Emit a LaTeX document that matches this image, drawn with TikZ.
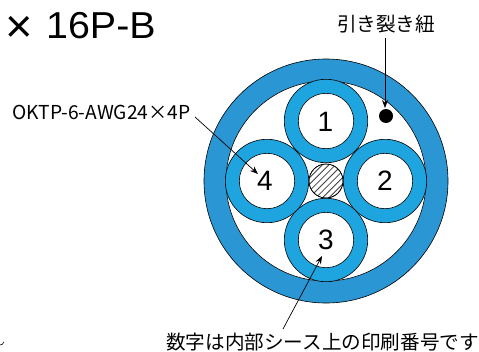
\documentclass[tikz,border=0pt]{standalone}
\usepackage{fontspec}
\setmainfont{Liberation Sans}
\newfontfamily\cjkf{Noto Sans CJK JP}
\usetikzlibrary{arrows.meta}
\definecolor{sheath}{HTML}{2A96D3}
\definecolor{ringc}{HTML}{1EA5DF}
\tikzset{
  x=1pt,y=-1pt,
  disc/.style={circle,draw=black,line width=0.6pt,inner sep=0pt,outer sep=0pt,minimum size=#1},
  pairnum/.style={font=\fontsize{28}{28}\selectfont,inner sep=0pt},
  jplabel/.style={font=\cjkf\fontsize{19.6}{20}\selectfont,inner sep=0pt},
  callout/.style={draw=black,line width=0.7pt,-{Stealth[length=8pt,width=6pt]}}
}
\begin{document}
\begin{tikzpicture}
\useasboundingbox (0,0) rectangle (479,351);
\node[disc=244pt,fill=sheath] (outer) at (326,181) {};
\node[disc=200pt,fill=white] (inner) at (326,181) {};
\node[disc=34pt,fill=white] (filler) at (326,181) {};
\begin{scope}
  \clip (326,181) circle (17);
  \foreach \d in {-33,-29.7,...,33}
    \draw[black!75,line width=0.8pt] (326-30+\d,181+30+\d) -- (326+30+\d,181-30+\d);
\end{scope}
\node[disc=34pt] at (326,181) {};
\foreach \n/\x/\y in {a/326/121,b/385/181,c/326/240,d/267/181}{
  \node[disc=83.4pt,fill=ringc] (ring\n) at (\x,\y) {};
  \node[disc=55.4pt,fill=white] (core\n) at (\x,\y) {};
}
\node[pairnum] (n1) at (325.5,122) {1};
\node[pairnum] (n2) at (385,181) {2};
\node[pairnum] (n3) at (326,240) {3};
\node[pairnum] (n4) at (265,181) {4};
\node[circle,fill=black,inner sep=0pt,minimum size=14pt] (dot) at (386,116) {};
\node[inner sep=0pt,font=\fontsize{47}{47}\selectfont] (title) at (19.5,29) {×};
\node[inner sep=0pt,anchor=base west,font=\fontsize{37.5}{37}\selectfont,xscale=1.05] (title2) at (46,38.5) {16P-B};
\node[jplabel] (rip) at (386,24) {引き裂き紐};
\node[inner sep=0pt,anchor=base west,font=\cjkf\fontsize{19.2}{20}\selectfont] (pair) at (12,119.5) {OKTP-6-AWG24×4P};
\node[jplabel,anchor=base west] (note) at (166,349) {数字は内部シース上の印刷番号です};
\coordinate (ripS) at (385,38);
\coordinate (ripE) at (385,108);
\coordinate (pairS) at (195,117);
\coordinate (pairE) at (258,174);
\coordinate (noteS) at (283,329);
\coordinate (noteE) at (322,256);
\draw[callout] (ripS) -- (ripE);
\draw[callout] (pairS) -- (pairE);
\draw[callout] (noteS) -- (noteE);
\draw[line width=0.6pt] (0,345) arc[start angle=90,end angle=10,radius=4];
\end{tikzpicture}
\end{document}
